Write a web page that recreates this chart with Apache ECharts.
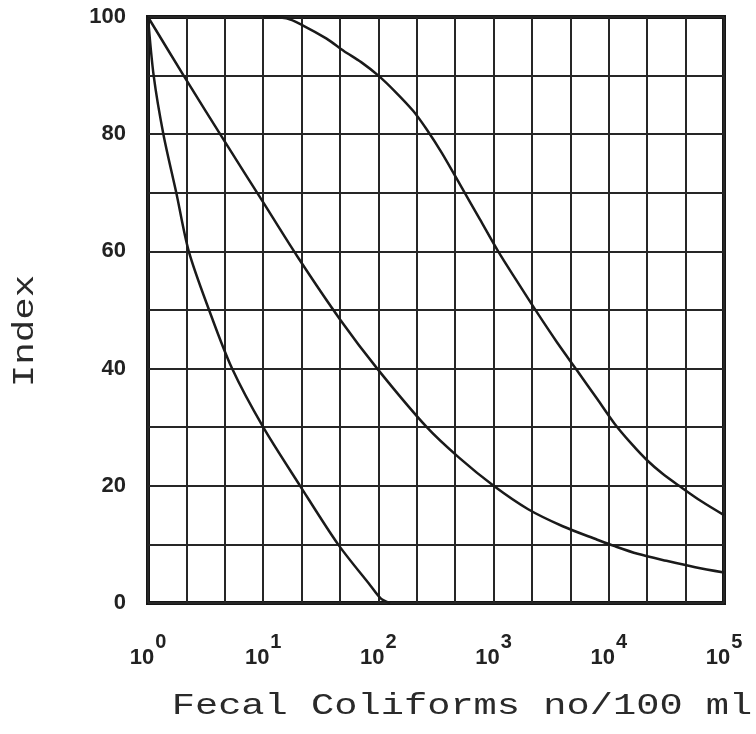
<!DOCTYPE html>
<html>
<head>
<meta charset="utf-8">
<script src="https://cdn.jsdelivr.net/npm/echarts@6/dist/echarts.min.js"></script>
<style>
  html, body { margin: 0; padding: 0; background: #fff; }
  #chart { width: 756px; height: 734px; }
</style>
</head>
<body>
<div id="chart"></div>
<script>
// ---- data ----
const xTickExponents = ['0', '1', '2', '3', '4', '5'];
const yTickLabels = ['0', '20', '40', '60', '80', '100'];
const xTitle = 'Fecal Coliforms no/100 ml';
const yTitle = 'Index';

// curve A (steepest)
const curveAx = [1, 1.12, 1.36, 1.76, 2.26, 3.39, 5.37, 10, 20.9, 44.7, 85.1, 104.7, 126];
const curveAy = [100, 90, 80, 70, 60, 50, 40, 30, 20, 10, 3, 0.8, 0];
// curve B (middle)
const curveBx = [1, 2.04, 4.9, 9.55, 20, 46.8, 97.7, 263, 501, 1000, 1995, 3981, 7943, 11220, 17783, 31623, 56234, 100000];
const curveBy = [100, 90, 78, 69, 59, 48.3, 40, 30, 24.8, 20, 16, 13.1, 10.8, 9.7, 8.4, 7.2, 6.1, 5.2];
// curve C (right)
const curveCx = [10, 15.85, 22.4, 35.5, 50.1, 70.8, 100, 141, 200, 263, 355, 525, 759, 1096, 1585, 2344, 3548, 5248, 7943, 11220, 15849, 21380, 29512, 40738, 63096, 100000];
const curveCy = [100, 99.8, 98.5, 96.3, 94.2, 92.3, 90, 87.2, 84, 80.8, 76.8, 71, 65.5, 60, 55, 49.8, 44.5, 39.8, 34.8, 30.6, 27.1, 24.4, 22, 20, 17.4, 15];

function zip(xs, ys) { return xs.map((x, i) => [x, ys[i]]); }

const chart = echarts.init(document.getElementById('chart'), null, { renderer: 'canvas' });

const lineStyle = { color: '#1a1a1a', width: 2.5 };
function curve(name, xs, ys) {
  return {
    name: name, type: 'line', xAxisIndex: 0, yAxisIndex: 0,
    data: zip(xs, ys), showSymbol: false, symbol: 'none',
    smooth: 0.3, lineStyle: lineStyle, z: 5, silent: true
  };
}

const option = {
  animation: false,
  backgroundColor: '#ffffff',
  grid: {
    left: 148, right: 32, top: 17, bottom: 131,
    show: true, borderColor: '#151515', borderWidth: 4, backgroundColor: 'transparent',
    containLabel: false
  },
  xAxis: [
    {
      type: 'log', logBase: 10, min: 1, max: 100000, splitNumber: 5,
      position: 'bottom',
      axisLine: { show: false }, axisTick: { show: false },
      splitLine: { show: false },
      axisLabel: {
        margin: 29,
        showMinLabel: true, showMaxLabel: true,
        formatter: function (v) {
          const e = Math.round(Math.log10(v));
          return '{b|10}{s|' + xTickExponents[e] + '}';
        },
        rich: {
          b: { fontSize: 22, fontWeight: 'bold', fontFamily: 'Liberation Sans', color: '#222', verticalAlign: 'bottom' },
          s: { fontSize: 20, fontWeight: 'bold', fontFamily: 'Liberation Sans', color: '#222', verticalAlign: 'bottom', padding: [0, 0, 17, 1] }
        }
      }
    },
    {
      // grid helper: each decade divided into thirds
      type: 'value', min: 0, max: 15, interval: 1, position: 'top',
      axisLine: { show: false }, axisTick: { show: false }, axisLabel: { show: false },
      splitLine: { show: true, lineStyle: { color: '#262626', width: 2 } }
    }
  ],
  yAxis: {
    type: 'value', min: 0, max: 100, interval: 10,
    axisLine: { show: false }, axisTick: { show: false },
    splitLine: { show: true, lineStyle: { color: '#262626', width: 2 } },
    axisLabel: {
      margin: 22, fontSize: 22, fontWeight: 'bold', fontFamily: 'Liberation Sans', color: '#222',
      formatter: function (v) {
        const i = yTickLabels.indexOf(String(v));
        return i >= 0 ? yTickLabels[i] : '';
      }
    }
  },
  graphic: [
    {
      type: 'text', x: 462, y: 706, scaleX: 1.29, silent: true,
      style: {
        text: xTitle, fontSize: 30, fontFamily: 'Liberation Mono', fill: '#2a2a2a',
        align: 'center', verticalAlign: 'middle', textAlign: 'center', textVerticalAlign: 'middle'
      }
    },
    {
      type: 'text', x: 25, y: 331, rotation: Math.PI / 2, scaleX: 1.25, silent: true,
      style: {
        text: yTitle, fontSize: 30, fontFamily: 'Liberation Mono', fill: '#2a2a2a',
        align: 'center', verticalAlign: 'middle', textAlign: 'center', textVerticalAlign: 'middle'
      }
    }
  ],
  series: [
    curve('A', curveAx, curveAy),
    curve('B', curveBx, curveBy),
    curve('C', curveCx, curveCy)
  ]
};

chart.setOption(option);
</script>
</body>
</html>
